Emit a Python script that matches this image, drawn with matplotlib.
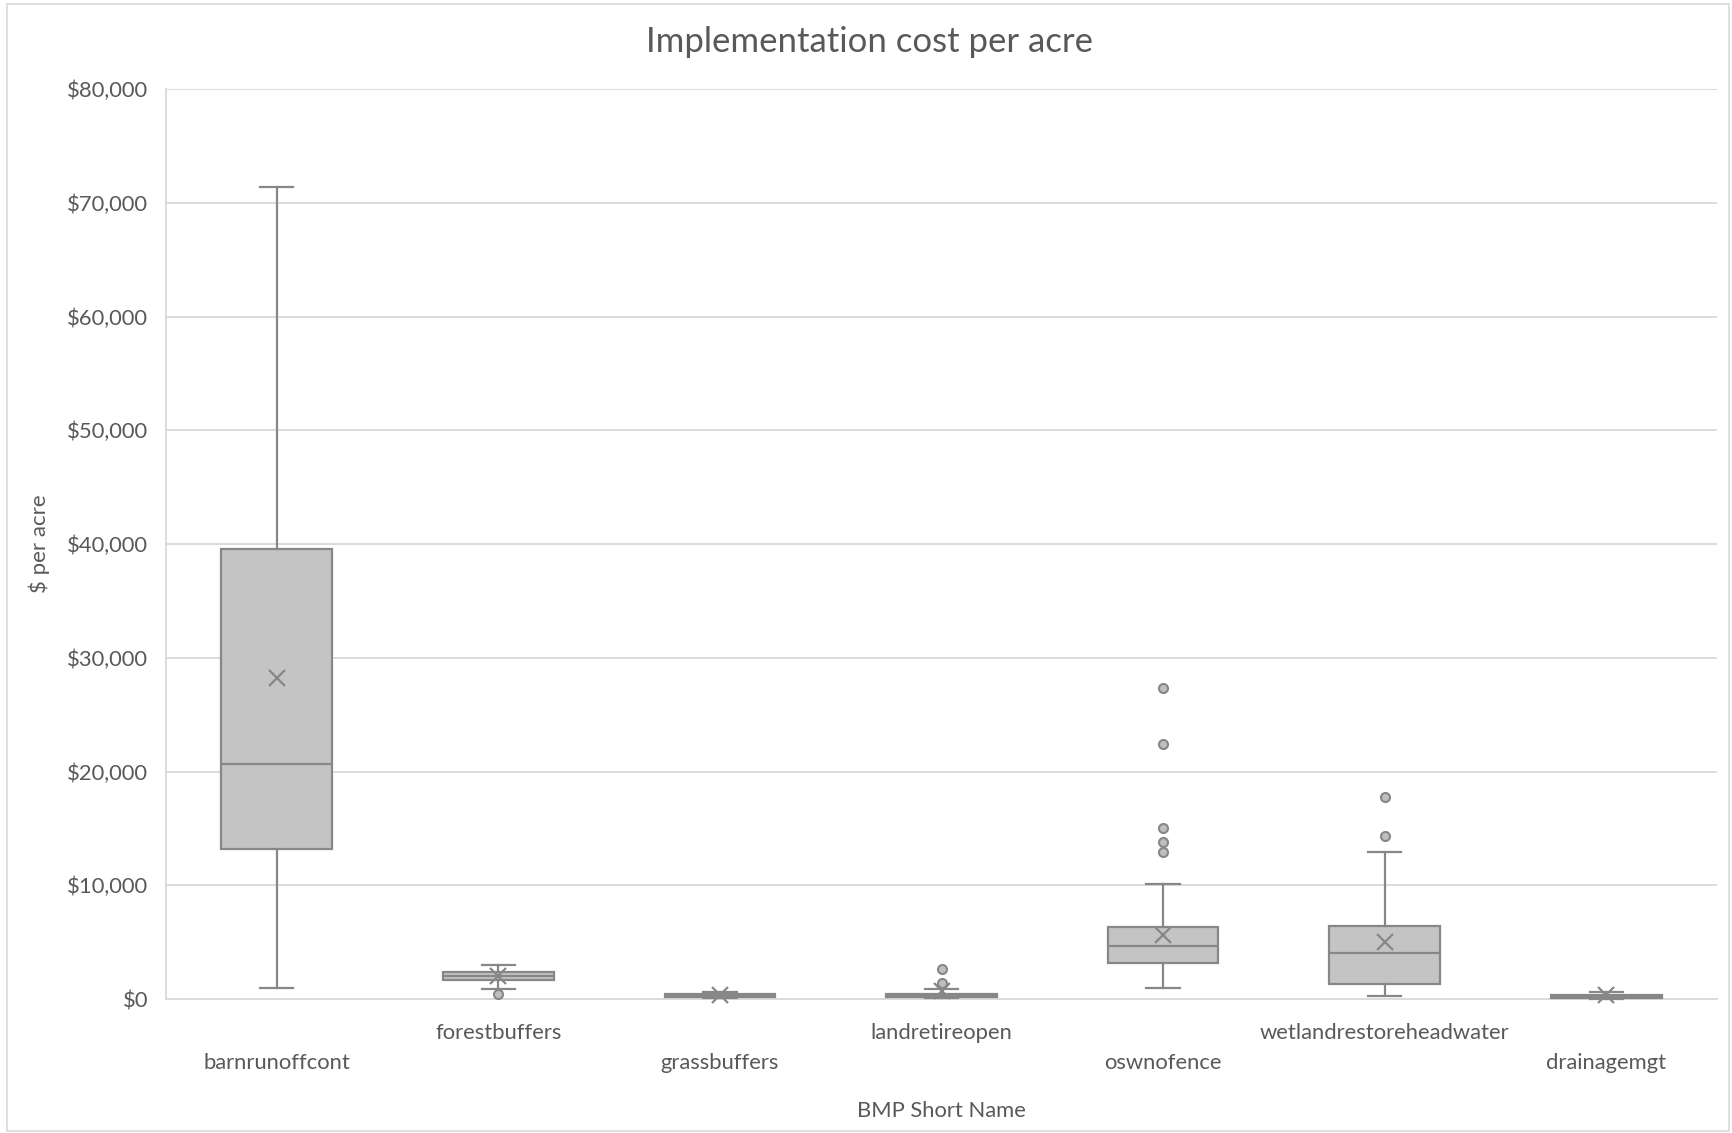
import matplotlib
matplotlib.use("Agg")
import matplotlib.pyplot as plt
import matplotlib.transforms as mtransforms
from matplotlib.patches import Rectangle
from matplotlib.ticker import FuncFormatter

# values ($ per acre)
categories = ["barnrunoffcont", "forestbuffers", "grassbuffers", "landretireopen",
              "oswnofence", "wetlandrestoreheadwater", "drainagemgt"]
whislo = [970, 850, 100, 50, 930, 230, 30]
q1 = [13180, 1680, 180, 150, 3190, 1320, 100]
med = [20680, 2000, 280, 300, 4680, 4070, 250]
q3 = [39520, 2330, 420, 480, 6330, 6380, 380]
whishi = [71400, 2980, 650, 900, 10100, 12940, 620]
means = [28240, 2050, 350, 700, 5620, 4970, 330]
fliers = [[], [420], [], [1450, 2600], [12920, 13760, 15050, 22460, 27330], [14350, 17750], []]

yticks = [0, 10000, 20000, 30000, 40000, 50000, 60000, 70000, 80000]

edge = "#878787"
face = "#c4c4c4"
txt = "#595959"
grid = "#d9d9d9"

plt.rcParams["font.family"] = ["Lato", "DejaVu Sans"]

fig = plt.figure(figsize=(17.32, 11.33), dpi=100)
ax = fig.add_axes([166 / 1732, 1 - 999 / 1133, (1717 - 166) / 1732, (999 - 89) / 1133])

stats = []
for i, name in enumerate(categories):
    stats.append(dict(label=name, whislo=whislo[i], q1=q1[i], med=med[i], q3=q3[i],
                      whishi=whishi[i], mean=means[i], fliers=fliers[i]))

pos = list(range(1, len(categories) + 1))
bp = ax.bxp(stats, positions=pos, widths=0.5, capwidths=0.15, patch_artist=True,
            showmeans=True,
            boxprops=dict(facecolor=face, edgecolor=edge, linewidth=1.6),
            medianprops=dict(color=edge, linewidth=1.6),
            whiskerprops=dict(color=edge, linewidth=1.6),
            capprops=dict(color=edge, linewidth=1.6),
            meanprops=dict(marker="x", markeredgecolor=edge, markersize=12, markeredgewidth=1.6),
            flierprops=dict(marker="o", markerfacecolor="#bfbfbf", markeredgecolor=edge,
                            markersize=6.5, markeredgewidth=1.5))
for key in bp:
    for art in bp[key]:
        art.set_clip_on(False)
        art.set_zorder(3)

ax.set_xlim(0.5, len(categories) + 0.5)
ax.set_ylim(0, 80000)
ax.set_yticks(yticks)
ax.yaxis.set_major_formatter(FuncFormatter(lambda v, p: "${:,.0f}".format(v)))
ax.grid(axis="y", color=grid, linewidth=1.3, zorder=0)
ax.set_axisbelow(True)

for s in ["top", "right"]:
    ax.spines[s].set_visible(False)
for s in ["left", "bottom"]:
    ax.spines[s].set_color(grid)
    ax.spines[s].set_linewidth(1.3)

ax.tick_params(axis="both", length=0, labelsize=15.8, colors=txt)
ax.tick_params(axis="y", pad=13)
ax.tick_params(axis="x", pad=17)
ax.set_xticks(pos)
ax.set_xticklabels(categories)
# staggered labels like the original
shift = mtransforms.ScaledTranslation(0, -0.30, fig.dpi_scale_trans)
for i, lab in enumerate(ax.get_xticklabels()):
    if i % 2 == 0:
        lab.set_transform(lab.get_transform() + shift)

fig.text(870 / 1732, 1 - 42 / 1133, "Implementation cost per acre", fontsize=25,
         color=txt, ha="center", va="center")
ax.set_xlabel("BMP Short Name", fontsize=15.8, color=txt)
ax.xaxis.set_label_coords(0.5, -0.112)
ax.set_ylabel("$ per acre", fontsize=16, color=txt)
ax.yaxis.set_label_coords(-0.075, 0.5)

fig.patches.append(Rectangle((7 / 1732, 2 / 1133), 1722 / 1732, 1127 / 1133,
                             transform=fig.transFigure, fill=False,
                             edgecolor=grid, linewidth=1.2))

fig.savefig("out.png", dpi=100)
